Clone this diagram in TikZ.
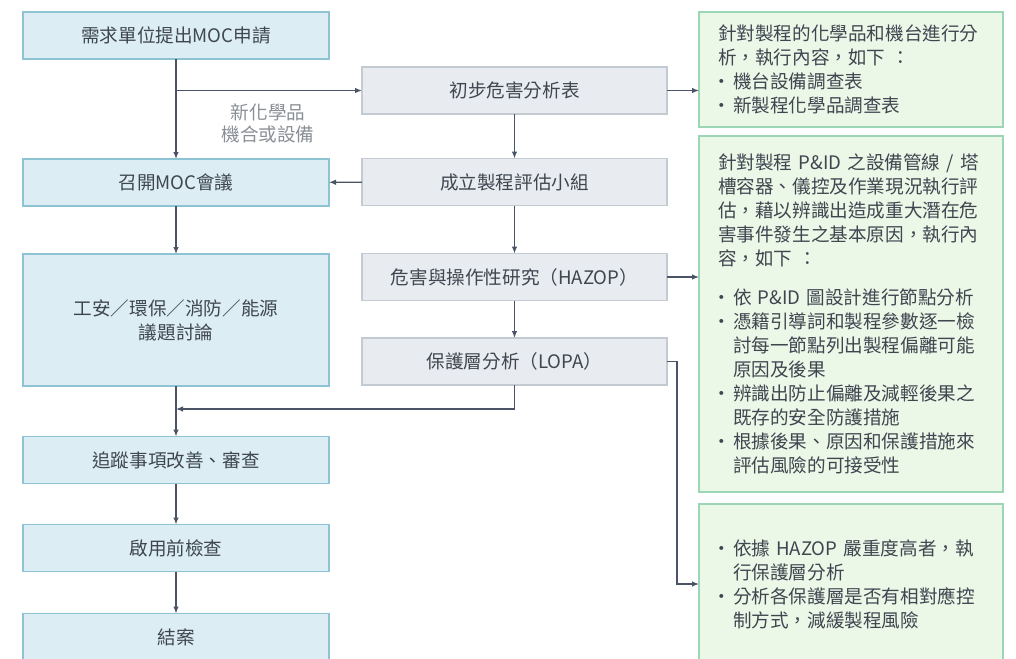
\documentclass[tikz,border=0pt]{standalone}
\usepackage{fontspec}
\setmainfont{Noto Sans CJK TC}
\usetikzlibrary{arrows.meta}
\definecolor{linegray}{HTML}{4A5466}
\definecolor{txtgray}{HTML}{3F4650}
\definecolor{lblgray}{HTML}{8A8F96}
\definecolor{bluefill}{HTML}{DCEEF4}
\definecolor{blueline}{HTML}{8DC3D2}
\definecolor{grayfill}{HTML}{E8EBEF}
\definecolor{grayline}{HTML}{C3CAD2}
\definecolor{greenfill}{HTML}{EBF7E7}
\definecolor{greenline}{HTML}{9DD6B6}
\newcommand\bul{\makebox[15pt][l]{\hspace{-5.5pt}・}}
\newcommand\ind{\makebox[15pt]{}}

\begin{document}
\begin{tikzpicture}[x=1pt,y=-1pt,>={Latex[length=7pt,width=5.5pt]},
    every node/.style={font=\fontsize{18.6}{24}\selectfont,text=txtgray},
    flow/.style={draw=linegray,line width=1.2pt},
    stepbox/.style={draw=blueline,fill=bluefill,line width=1.2pt,minimum width=306pt,minimum height=47pt,inner sep=0pt,outer sep=0pt,align=center},
    toolbox/.style={draw=grayline,fill=grayfill,line width=1.2pt,minimum width=305pt,minimum height=47pt,inner sep=0pt,outer sep=0pt},
    notebox/.style={draw=greenline,fill=greenfill,line width=1.2pt,text width=266pt,inner xsep=19pt,inner ysep=0pt,outer sep=0pt,align=left}]
    \useasboundingbox (0,0) rectangle (1016,658);
    \clip (0,0) rectangle (1016,658);
    % left column
    \node[stepbox] (req) at (176,35.5) {需求單位提出MOC申請};
    \node[stepbox] (mtg) at (176,182.5) {召開MOC會議};
    \node[stepbox,minimum height=132pt] (topic) at (176,320) {工安／環保／消防／能源\\議題討論};
    \node[stepbox] (track) at (176,460) {追蹤事項改善、審查};
    \node[stepbox] (check) at (176,548) {啟用前檢查};
    \node[stepbox] (close) at (176,637) {結案};
    % middle column
    \node[toolbox] (pha) at (514.5,90.5) {初步危害分析表};
    \node[toolbox] (team) at (514.5,182) {成立製程評估小組};
    \node[toolbox] (hazop) at (514.5,277) {危害與操作性研究（HAZOP）};
    \node[toolbox] (lopa) at (514.5,361.5) {保護層分析（LOPA）};
    % right column
    \node[notebox,minimum height=115pt] (note1) at (851,69.5) {針對製程的化學品和機台進行分\\析，執行內容，如下 ：\\\bul 機台設備調查表\\\bul 新製程化學品調查表};
    \node[notebox,minimum height=356pt] (note2) at (851,314) {針對製程 P\&ID 之設備管線 / 塔\\槽容器、儀控及作業現況執行評\\估，藉以辨識出造成重大潛在危\\害事件發生之基本原因，執行內\\容，如下 ：\\[15pt]\bul 依 P\&ID 圖設計進行節點分析\\\bul 憑籍引導詞和製程參數逐一檢\\\ind 討每一節點列出製程偏離可能\\\ind 原因及後果\\\bul 辨識出防止偏離及減輕後果之\\\ind 既存的安全防護措施\\\bul 根據後果、原因和保護措施來\\\ind 評估風險的可接受性};
    \node[notebox,minimum height=160pt] (note3) at (851,584) {\bul 依據 HAZOP 嚴重度高者，執\\\ind 行保護層分析\\\bul 分析各保護層是否有相對應控\\\ind 制方式，減緩製程風險};
    % connectors
    \coordinate (join) at (176,409);
    \coordinate (bend) at (677,361.5);
    \draw[flow,->] (req) -- (mtg);
    \draw[flow,->] (req.south |- pha.west) -- (pha.west);
    \node[text=lblgray,align=center,font=\fontsize{18.6}{22}\selectfont] (newlbl) at (268,123) {新化學品\\機合或設備};
    \draw[flow,->] (pha) -- (team);
    \draw[flow,->] (team) -- (mtg);
    \draw[flow,->] (team) -- (hazop);
    \draw[flow,->] (hazop) -- (lopa);
    \draw[flow,->] (mtg) -- (topic);
    \draw[flow,->] (topic) -- (track);
    \draw[flow,->] (lopa.south) |- (join);
    \draw[flow,->] (track) -- (check);
    \draw[flow,->] (check) -- (close);
    \draw[flow,->] (pha.east) -- (pha.east -| note1.west);
    \draw[flow,->] (hazop.east) -- (hazop.east -| note2.west);
    \draw[flow,->] (lopa.east) -- (bend) |- (note3.west);
\end{tikzpicture}
\end{document}
